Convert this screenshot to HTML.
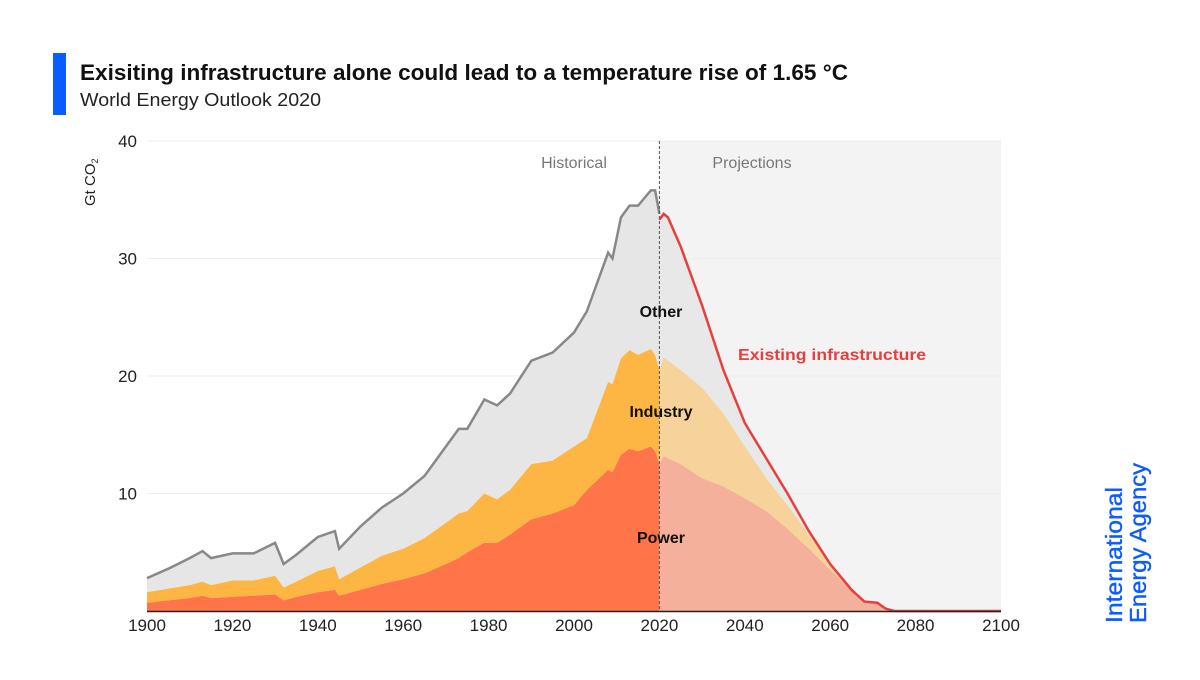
<!DOCTYPE html>
<html><head><meta charset="utf-8"><style>
body{margin:0;background:#fff;width:1200px;height:675px;overflow:hidden;font-family:"Liberation Sans",sans-serif}
</style></head><body>
<svg width="1200" height="675" xmlns="http://www.w3.org/2000/svg">
<rect x="53" y="53" width="13" height="62" fill="#0b5cff"/>
<text x="80" y="80" font-size="22" font-weight="bold" fill="#111" textLength="768" lengthAdjust="spacingAndGlyphs">Exisiting infrastructure alone could lead to a temperature rise of 1.65 °C</text>
<text x="80" y="106" font-size="18" fill="#222" textLength="241" lengthAdjust="spacingAndGlyphs">World Energy Outlook 2020</text>
<g id="plot"></g>
<text transform="translate(95,206) rotate(-90)" font-size="15" fill="#222">Gt CO<tspan font-size="9" dy="3">2</tspan></text>
<text transform="translate(1122,623) rotate(-90)" font-size="23" fill="#0b5cff" stroke="#0b5cff" stroke-width="0.4"><tspan x="0" dy="0" textLength="136" lengthAdjust="spacingAndGlyphs">International</tspan><tspan x="0" dy="24" textLength="160" lengthAdjust="spacingAndGlyphs">Energy Agency</tspan></text>
</svg>
<script>
const histYears=[1900,1905,1910,1913,1915,1920,1925,1930,1932,1935,1940,1944,1945,1950,1955,1960,1965,1970,1973,1975,1979,1982,1985,1990,1995,2000,2003,2008,2009,2011,2013,2015,2018,2019,2020];
const histTotal=[2.8,3.6,4.5,5.1,4.5,4.9,4.9,5.8,4.0,4.8,6.3,6.8,5.3,7.2,8.8,10.0,11.5,14.0,15.5,15.5,18.0,17.5,18.5,21.3,22.0,23.7,25.5,30.5,30.0,33.5,34.5,34.5,35.8,35.8,33.8];
const histIndTop=[1.6,1.9,2.2,2.5,2.2,2.6,2.6,3.0,2.0,2.5,3.4,3.8,2.7,3.7,4.7,5.3,6.2,7.5,8.3,8.5,10.0,9.5,10.3,12.5,12.8,14.0,14.7,19.5,19.3,21.5,22.2,21.8,22.3,21.8,20.5];
const histPower=[0.7,0.9,1.1,1.3,1.1,1.2,1.3,1.4,0.9,1.2,1.6,1.8,1.3,1.8,2.3,2.7,3.2,4.0,4.5,5.0,5.8,5.8,6.5,7.8,8.3,9.0,10.3,12.0,11.8,13.3,13.8,13.6,14.0,13.6,12.5];
const projYears=[2020,2021,2022,2025,2030,2035,2040,2045,2050,2055,2060,2065,2068,2071,2073,2075,2100];
const projTotal=[33.3,33.8,33.5,31.0,26.0,20.5,16.0,13.0,10.0,6.8,4.0,1.8,0.8,0.7,0.2,0,0];
const projIndTop=[20.5,21.6,21.3,20.5,19.0,16.8,14.0,11.3,9.0,6.5,4.0,1.8,0.8,0.6,0.2,0,0];
const projPower=[12.5,13.2,13.0,12.5,11.3,10.6,9.6,8.5,7.0,5.3,3.5,1.8,0.8,0.6,0.2,0,0];
const yTicks=[10,20,30,40];
const xTicks=[1900,1920,1940,1960,1980,2000,2020,2040,2060,2080,2100];
const NS="http://www.w3.org/2000/svg";
const X=y=>147+(y-1900)*(1001-147)/200;
const Y=v=>611-v*(611-141)/40;
const g=document.getElementById('plot');
function mk(t,a){const e=document.createElementNS(NS,t);for(const k in a)e.setAttribute(k,a[k]);g.appendChild(e);return e;}
let e=mk('rect',{x:X(2020),y:141,width:X(2100)-X(2020),height:470,fill:'#f3f3f3'});


yTicks.forEach(v=>{const l=mk('line',{x1:147,x2:1001,y1:Y(v),y2:Y(v),stroke:'#ececec','stroke-width':1});


const t=mk('text',{x:137,y:Y(v)+6,'text-anchor':'end','font-size':17,fill:'#222'});t.textContent=v;

});
function area(xs,top,bot,fill,name){let d='M'+xs.map((y,i)=>X(y)+','+Y(top[i])).join('L');
for(let i=xs.length-1;i>=0;i--)d+='L'+X(xs[i])+','+Y(bot?bot[i]:0);
const p=mk('path',{d:d+'Z',fill:fill});

}
area(histYears,histTotal,histIndTop,'#e6e6e6','area-other-historical');
area(histYears,histIndTop,histPower,'#fdb643','area-industry-historical');
area(histYears,histPower,null,'#ff7549','area-power-historical');
area(projYears,projTotal,projIndTop,'#e8e8e8','area-other-projection');
area(projYears,projIndTop,projPower,'#f6d39a','area-industry-projection');
area(projYears,projPower,null,'#f5b09b','area-power-projection');
let l=mk('polyline',{points:histYears.map((y,i)=>X(y)+','+Y(histTotal[i])).join(' '),fill:'none',stroke:'#888','stroke-width':2.5});


l=mk('polyline',{points:projYears.map((y,i)=>X(y)+','+Y(projTotal[i])).join(' '),fill:'none',stroke:'#e5403f','stroke-width':2.5});


l=mk('line',{x1:X(2020),x2:X(2020),y1:141,y2:611,stroke:'#555','stroke-dasharray':'3,2','stroke-width':1});


l=mk('line',{x1:147,x2:1001,y1:611.5,y2:611.5,stroke:'#222','stroke-width':1.5});


xTicks.forEach(v=>{const t=mk('text',{x:X(v),y:631,'text-anchor':'middle','font-size':17,fill:'#222'});t.textContent=v;

});
function lab(x,y,s,o,name){const t=mk('text',Object.assign({x:x,y:y,'font-size':16},o));t.textContent=s;

}
lab(574,168,'Historical',{'text-anchor':'middle',fill:'#777'},'historical-label');
lab(752,168,'Projections',{'text-anchor':'middle',fill:'#777'},'projections-label');
lab(661,317,'Other',{'text-anchor':'middle','font-weight':'bold',fill:'#111'},'other-label');
lab(661,417,'Industry',{'text-anchor':'middle','font-weight':'bold',fill:'#111'},'industry-label');
lab(661,543,'Power',{'text-anchor':'middle','font-weight':'bold',fill:'#111'},'power-label');
lab(738,360,'Existing infrastructure',{'font-weight':'bold',fill:'#e5403f',textLength:188,lengthAdjust:'spacingAndGlyphs'},'existing-infrastructure-label');
</script>
</body></html>
